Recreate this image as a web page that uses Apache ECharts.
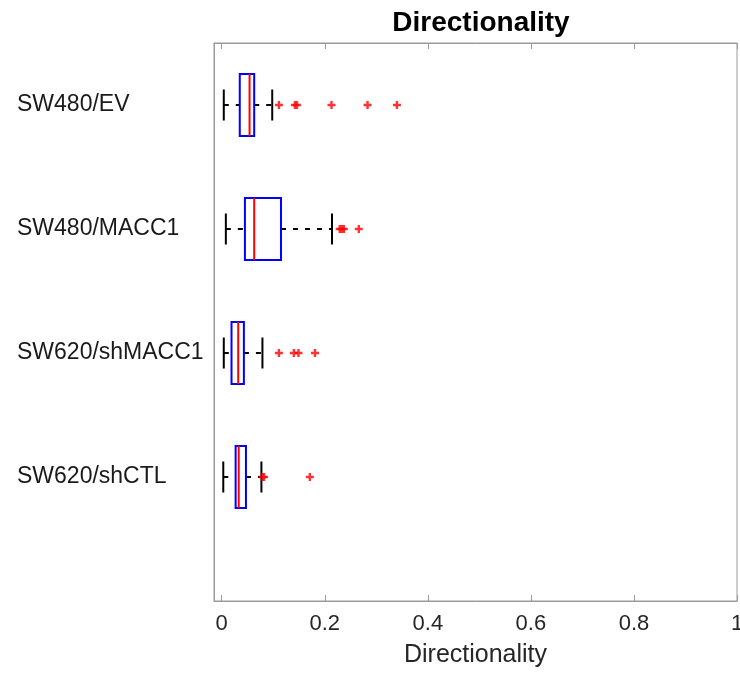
<!DOCTYPE html>
<html>
<head>
<meta charset="utf-8">
<script src="https://cdn.jsdelivr.net/npm/echarts@6/dist/echarts.min.js"></script>
<style>
  html, body { margin: 0; padding: 0; background: #fff; }
  #chart { width: 740px; height: 673px; }
</style>
</head>
<body>
<div id="chart"></div>
<script>
// groups, top to bottom
const categories = ['SW480/EV', 'SW480/MACC1', 'SW620/shMACC1', 'SW620/shCTL'];
const lowWhisker = [0.004, 0.008, 0.004, 0.003];
const q1 = [0.035, 0.045, 0.019, 0.027];
const median = [0.054, 0.063, 0.032, 0.033];
const q3 = [0.063, 0.115, 0.043, 0.047];
const highWhisker = [0.098, 0.214, 0.079, 0.077];
const outliers = [
  [0.111, 0.142, 0.146, 0.213, 0.283, 0.340],
  [0.229, 0.233, 0.237, 0.266],
  [0.111, 0.140, 0.149, 0.181],
  [0.079, 0.082, 0.171]
];
const xTicks = [0, 0.2, 0.4, 0.6, 0.8, 1];
const yTicks = [1, 2, 3, 4];

const font = '"Liberation Sans", Arial, sans-serif';
const axisGray = '#9a9a9a';

const boxData = categories.map((c, i) =>
  [i + 1, lowWhisker[i], q1[i], median[i], q3[i], highWhisker[i]]);

const outlierData = [];
outliers.forEach((arr, i) => {
  arr.forEach(v => outlierData.push([v, i + 1]));
});

function renderBox(params, api) {
  const y = api.value(0);
  const pLow = api.coord([api.value(1), y]);
  const pQ1 = api.coord([api.value(2), y]);
  const pMed = api.coord([api.value(3), y]);
  const pQ3 = api.coord([api.value(4), y]);
  const pHigh = api.coord([api.value(5), y]);
  const halfBox = api.size([0, 0.25])[1];
  const halfCap = api.size([0, 0.125])[1];
  const cy = pMed[1];
  const dash = { stroke: '#000', lineWidth: 2, lineDash: [5, 7] };
  const solid = { stroke: '#000', lineWidth: 2 };
  return {
    type: 'group',
    children: [
      { type: 'line', shape: { x1: pLow[0], y1: cy, x2: pQ1[0], y2: cy }, style: dash },
      { type: 'line', shape: { x1: pQ3[0], y1: cy, x2: pHigh[0], y2: cy }, style: dash },
      { type: 'line', shape: { x1: pLow[0], y1: cy - halfCap, x2: pLow[0], y2: cy + halfCap }, style: solid },
      { type: 'line', shape: { x1: pHigh[0], y1: cy - halfCap, x2: pHigh[0], y2: cy + halfCap }, style: solid },
      {
        type: 'rect',
        shape: { x: pQ1[0], y: cy - halfBox, width: pQ3[0] - pQ1[0], height: halfBox * 2 },
        style: { fill: null, stroke: '#0000ff', lineWidth: 2 }
      },
      {
        type: 'line',
        shape: { x1: pMed[0], y1: cy - halfBox, x2: pMed[0], y2: cy + halfBox },
        style: { stroke: '#ff0000', lineWidth: 2 }
      }
    ]
  };
}

const chart = echarts.init(document.getElementById('chart'));

const xCommon = {
  type: 'value',
  min: -0.015,
  max: 1,
  splitLine: { show: false },
  axisLine: { show: true, onZero: false, lineStyle: { color: axisGray, width: 1 } },
  axisTick: {
    show: true,
    inside: true,
    length: 6,
    customValues: xTicks,
    lineStyle: { color: axisGray }
  }
};

const option = {
  backgroundColor: '#fff',
  animation: false,
  title: {
    text: 'Directionality',
    left: 476,
    textAlign: 'center',
    top: 4,
    textStyle: { fontFamily: font, fontSize: 28, fontWeight: 'bold', color: '#000' }
  },
  grid: {
    left: 214,
    top: 43,
    width: 523,
    height: 558,
    outerBoundsMode: 'none',
    containLabel: false,
    show: true,
    borderColor: axisGray,
    borderWidth: 1
  },
  xAxis: [
    Object.assign({}, xCommon, {
      position: 'bottom',
      name: 'Directionality',
      nameLocation: 'middle',
      nameGap: 42,
      nameTextStyle: { fontFamily: font, fontSize: 25, color: '#262626' },
      axisLabel: {
        customValues: xTicks,
        margin: 12,
        fontFamily: font,
        fontSize: 22,
        color: '#262626',
        formatter: v => String(Math.round(v * 10) / 10)
      }
    }),
    Object.assign({}, xCommon, {
      position: 'top',
      axisLabel: { show: false }
    })
  ],
  yAxis: {
    type: 'value',
    min: 0.5,
    max: 5,
    inverse: true,
    splitLine: { show: false },
    axisLine: { show: true, onZero: false, lineStyle: { color: axisGray } },
    axisTick: { show: false },
    axisLabel: {
      customValues: yTicks,
      align: 'left',
      margin: 197,
      fontFamily: font,
      fontSize: 23,
      color: '#1a1a1a',
      formatter: v => categories[Math.round(v) - 1] || ''
    }
  },
  series: [
    {
      type: 'custom',
      xAxisIndex: 0,
      renderItem: renderBox,
      encode: { x: [1, 2, 3, 4, 5], y: 0 },
      data: boxData,
      z: 2
    },
    {
      type: 'scatter',
      xAxisIndex: 0,
      symbol: 'path://M3.5,0L6.5,0L6.5,3.5L10,3.5L10,6.5L6.5,6.5L6.5,10L3.5,10L3.5,6.5L0,6.5L0,3.5L3.5,3.5Z',
      symbolSize: 8,
      itemStyle: { color: '#ff0000' },
      data: outlierData,
      z: 3
    }
  ]
};

chart.setOption(option);
</script>
</body>
</html>
